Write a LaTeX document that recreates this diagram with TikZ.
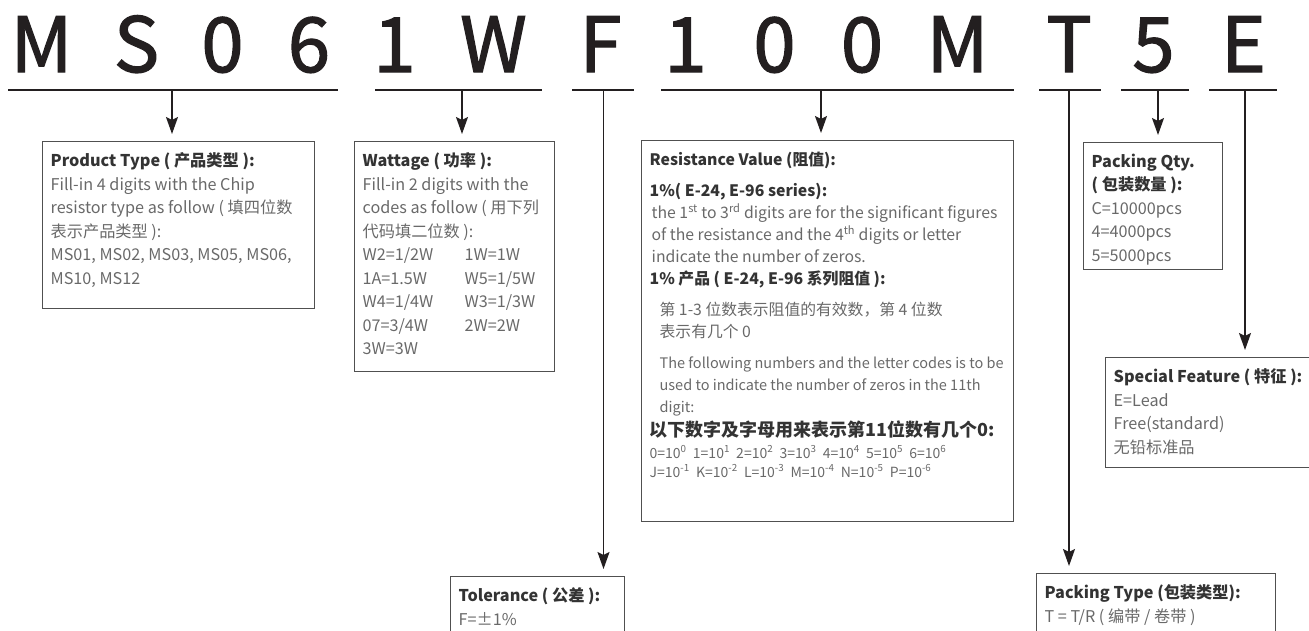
\documentclass[tikz,border=0pt]{standalone}
\usepackage{fontspec}
\setmainfont{Noto Sans CJK SC}
\newfontfamily\codefont{Noto Sans CJK SC}[FakeBold=1.6]
\usetikzlibrary{arrows.meta, positioning}
\definecolor{inkdark}{RGB}{35,31,32}
\definecolor{headgray}{RGB}{51,51,51}
\definecolor{bodygray}{RGB}{105,105,105}
\definecolor{boxgray}{RGB}{80,80,80}
\newcommand{\head}[1]{{\bfseries\color{headgray}#1}}
\newcommand{\boxtext}[3]{\parbox[t][#1][t]{#2}{\raggedright #3}}
\newcommand{\wcol}[1]{\makebox[102pt][l]{#1}}

\begin{document}
\begin{tikzpicture}[x=1pt, y=-1pt,
    codechar/.style={font=\codefont\fontsize{76}{76}\selectfont, text=inkdark, anchor=base, inner sep=0pt},
    bar/.style={line width=2.4pt, draw=inkdark},
    arrow/.style={-{Stealth[length=17pt, width=12pt, inset=3pt]}, line width=1.6pt, draw=inkdark, shorten >=7pt},
    infobox/.style={draw=boxgray, line width=1.3pt, anchor=north west, inner xsep=8pt, inner ysep=11pt,
        text=bodygray, font=\fontsize{16.2}{23.5}\selectfont}
]
    \useasboundingbox (0,0) rectangle (1309,630);
    \clip (0,0) rectangle (1309,630);

    % part number
    \foreach \ch/\cx [count=\i] in {M/41.5, S/136.5, 0/222.5, 6/309, 1/394.5, W/493.5, F/600.5,
        1/685.5, 0/774.5, 0/862, M/957.5, T/1069, 5/1153.5, E/1243.5}
        \node[codechar] (c\i) at (\cx,72) {\ch};

    % underlines and stems
    \foreach \g/\xa/\xb/\xs in {1/8/338/172, 2/375/542/462, 3/572/634/603.5, 4/661/1014/821,
        5/1039/1101/1069, 6/1121/1189/1158, 7/1209/1277/1245} {
        \coordinate (g\g w) at (\xa,90);
        \coordinate (g\g e) at (\xb,90);
        \coordinate (g\g) at (\xs,90);
        \draw[bar] (g\g w) -- (g\g e);
    }

    % boxes
    \node[infobox] (prod) at (42,141) {\boxtext{145pt}{256pt}{%
        \head{Product Type ( 产品类型 ):}\\
        Fill-in 4 digits with the Chip\\
        resistor type as follow ( 填四位数\\
        表示产品类型 ):\\
        MS01, MS02, MS03, MS05, MS06,\\
        MS10, MS12}};

    \node[infobox] (watt) at (354,141) {\boxtext{208pt}{184pt}{%
        \head{Wattage ( 功率 ):}\\
        Fill-in 2 digits with the\\
        codes as follow ( 用下列\\
        代码填二位数 ):\\
        \wcol{W2=1/2W}1W=1W\\
        \wcol{1A=1.5W}W5=1/5W\\
        \wcol{W4=1/4W}W3=1/3W\\
        \wcol{07=3/4W}2W=2W\\
        3W=3W}};

    \node[infobox] (resv) at (641,140) {\boxtext{359pt}{356pt}{\fontsize{15.8}{22}\selectfont
        \head{Resistance Value (阻值):}\\[9pt]
        \head{1\%( E-24, E-96 series):}\\
        \hspace*{2pt}the 1\textsuperscript{st} to 3\textsuperscript{rd} digits are for the significant figures\\
        \hspace*{2pt}of the resistance and the 4\textsuperscript{th} digits or letter\\
        \hspace*{2pt}indicate the number of zeros.\\
        \head{1\% 产品 ( E-24, E-96 系列阻值 ):}\\[9pt]
        \hspace*{10pt}第 1-3 位数表示阻值的有效数，第 4 位数\\
        \hspace*{10pt}表示有几个 0\\[9pt]
        {\fontsize{14.5}{22}\selectfont
        \hspace*{10pt}The following numbers and the letter codes is to be\\
        \hspace*{10pt}used to indicate the number of zeros in the 11th\\
        \hspace*{10pt}digit:}\\[2pt]
        {\fontsize{18}{22}\selectfont\head{以下数字及字母用来表示第11位数有几个0:}}\\
        {\fontsize{14}{22}\selectfont
        0=10\textsuperscript{0}\ \ 1=10\textsuperscript{1}\ \ 2=10\textsuperscript{2}\ \ 3=10\textsuperscript{3}\ \
        4=10\textsuperscript{4}\ \ 5=10\textsuperscript{5}\ \ 6=10\textsuperscript{6}}\\[-3pt]
        {\fontsize{14}{22}\selectfont
        J=10\textsuperscript{-1}\ \ K=10\textsuperscript{-2}\ \ L=10\textsuperscript{-3}\ \
        M=10\textsuperscript{-4}\ \ N=10\textsuperscript{-5}\ \ P=10\textsuperscript{-6}}}};

    \node[infobox] (tol) at (450,576) {\boxtext{78pt}{158pt}{%
        \head{Tolerance ( 公差 ):}\\
        F=±1\%}};

    \node[infobox] (ptype) at (1036,573) {\boxtext{78pt}{223pt}{%
        \head{Packing Type (包装类型):}\\
        T = T/R ( 编带 / 卷带 )}};

    \node[infobox] (pqty) at (1083,142) {\boxtext{105pt}{123pt}{%
        \head{Packing Qty.}\\
        \head{( 包装数量 ):}\\
        C=10000pcs\\
        4=4000pcs\\
        5=5000pcs}};

    \node[infobox] (spec) at (1105,357) {\boxtext{88pt}{200pt}{%
        \head{Special Feature ( 特征 ):}\\
        E=Lead\\
        Free(standard)\\
        无铅标准品}};

    % arrows
    \draw[arrow] (g1) -- (prod.north -| g1);
    \draw[arrow] (g2) -- (watt.north -| g2);
    \draw[arrow] (g3) -- (tol.north -| g3);
    \draw[arrow] (g4) -- (resv.north -| g4);
    \draw[arrow] (g5) -- (ptype.north -| g5);
    \draw[arrow] (g6) -- (pqty.north -| g6);
    \draw[arrow] (g7) -- (spec.north -| g7);
\end{tikzpicture}
\end{document}
